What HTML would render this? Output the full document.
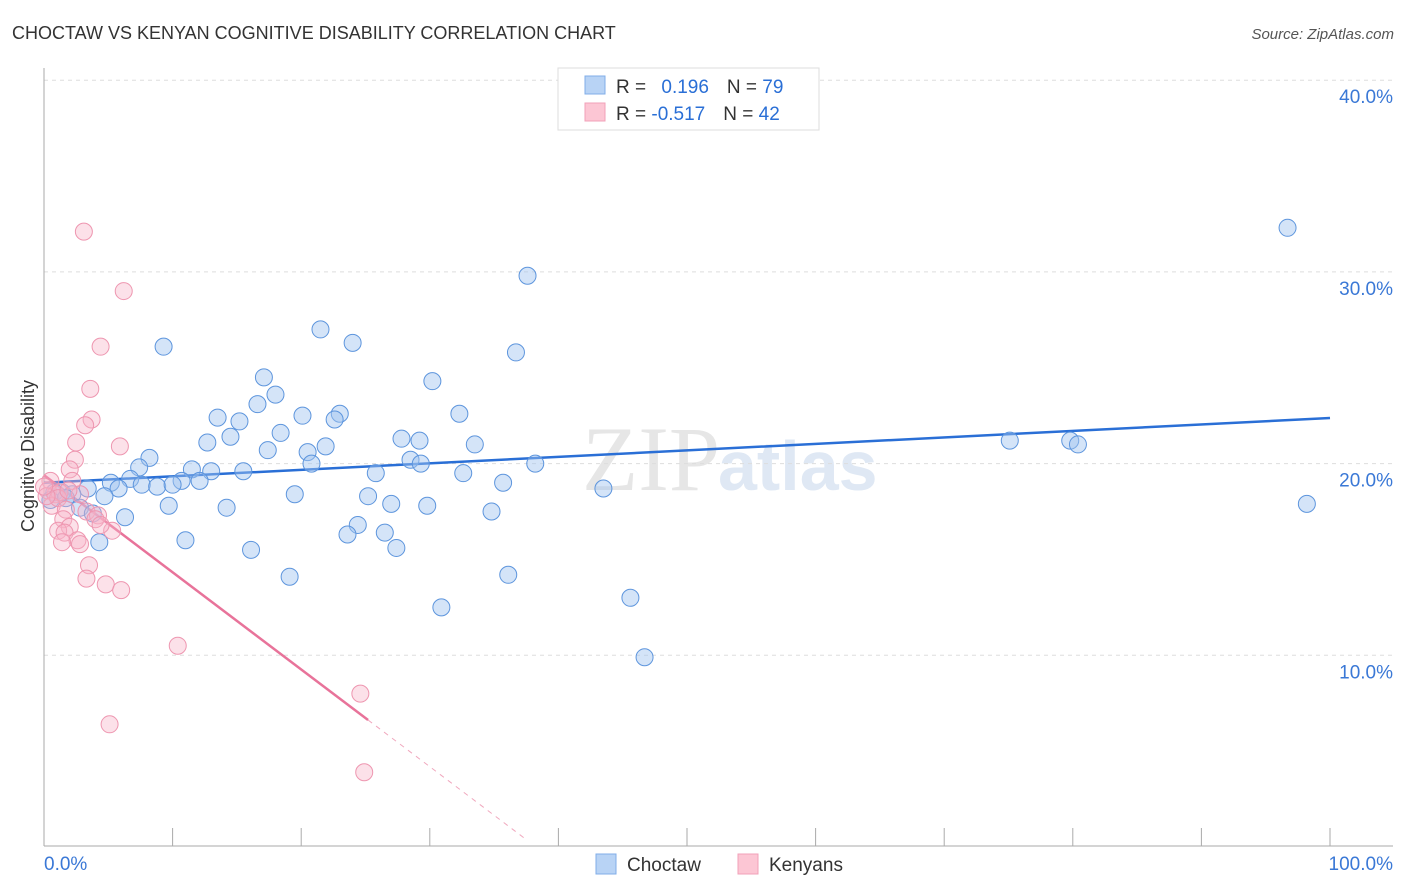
<!DOCTYPE html>
<html><head><meta charset="utf-8"><style>
body{margin:0;background:#fff;font-family:"Liberation Sans",sans-serif}
svg{display:block}
</style></head><body>
<svg id="chart" width="1406" height="892">
<text x="12" y="39" font-size="18" fill="#333">CHOCTAW VS KENYAN COGNITIVE DISABILITY CORRELATION CHART</text>
<text x="1394" y="39" font-size="15" fill="#555" text-anchor="end" font-style="italic">Source: ZipAtlas.com</text>
<text x="720" y="490" font-size="92" fill="#e6e6e6" text-anchor="end" font-family="Liberation Serif">ZIP</text>
<text x="718" y="490" font-size="70" fill="#dfe8f4" font-weight="bold">atlas</text>
<g id="grid"></g><g id="axes"></g><g id="trend"></g><g id="pts"></g>
<text transform="translate(34,456) rotate(-90)" font-size="18" fill="#333" text-anchor="middle">Cognitive Disability</text>
<g>
<rect x="558" y="68" width="261" height="62" fill="#fff" stroke="#ddd"/>
<rect x="585" y="76" width="20" height="18" fill="#b8d3f5" stroke="#80aee8"/>
<rect x="585" y="103" width="20" height="18" fill="#fcc6d4" stroke="#f2a0b8"/>
<text x="616" y="93" font-size="19" fill="#333">R = <tspan fill="#2a6fd6" dx="10">0.196</tspan><tspan dx="18" fill="#333">N = </tspan><tspan fill="#2a6fd6">79</tspan></text>
<text x="616" y="120" font-size="19" fill="#333">R = <tspan fill="#2a6fd6">-0.517</tspan><tspan dx="18" fill="#333">N = </tspan><tspan fill="#2a6fd6">42</tspan></text>
</g>
<g>
<rect x="596" y="854" width="20" height="20" fill="#b8d3f5" stroke="#80aee8"/>
<text x="627" y="871" font-size="19" fill="#333">Choctaw</text>
<rect x="738" y="854" width="20" height="20" fill="#fcc6d4" stroke="#f2a0b8"/>
<text x="769" y="871" font-size="19" fill="#333">Kenyans</text>
</g>
</svg>
<script>
const yTicks=[10,20,30,40];
const yTickLabels=["10.0%","20.0%","30.0%","40.0%"];
const xEnds=[0,100];
const xEndLabels=["0.0%","100.0%"];
const choctawX=[96.7,37.6,21.5,24.0,9.3,36.7,17.1,30.2,18.0,16.6,13.5,20.1,23.0,22.6,32.3,15.2,14.5,18.4,12.7,27.8,29.2,33.5,21.9,20.5,8.2,17.4,28.5,29.3,38.2,20.8,7.4,11.5,13.0,15.5,25.8,32.6,10.7,12.1,5.2,6.7,7.6,8.8,10.0,5.8,3.4,1.4,2.2,4.7,19.5,25.2,35.7,43.5,75.1,79.8,80.4,98.2,9.7,14.2,27.0,29.8,34.8,2.8,3.8,6.3,24.4,23.6,26.5,11.0,4.3,16.1,27.4,19.1,36.1,30.9,45.6,46.7,0.8,0.5,1.7];
const choctawY=[32.3,29.8,27.0,26.3,26.1,25.8,24.5,24.3,23.6,23.1,22.4,22.5,22.6,22.3,22.6,22.2,21.4,21.6,21.1,21.3,21.2,21.0,20.9,20.6,20.3,20.7,20.2,20.0,20.0,20.0,19.8,19.7,19.6,19.6,19.5,19.5,19.1,19.1,19.0,19.2,18.9,18.8,18.9,18.7,18.7,18.5,18.4,18.3,18.4,18.3,19.0,18.7,21.2,21.2,21.0,17.9,17.8,17.7,17.9,17.8,17.5,17.7,17.4,17.2,16.8,16.3,16.4,16.0,15.9,15.5,15.6,14.1,14.2,12.5,13.0,9.9,18.5,18.1,18.2];
const kenyanX=[3.1,6.2,4.4,3.6,3.7,3.2,2.5,5.9,2.4,2.0,2.2,0.5,0.3,0.9,1.2,0.6,1.1,2.8,1.7,3.3,4.2,5.3,4.0,1.5,2.0,1.1,1.6,2.6,1.4,2.8,3.5,3.3,4.8,6.0,10.4,24.6,5.1,24.9,0.2,0.0,1.9,4.4];
const kenyanY=[32.1,29.0,26.1,23.9,22.3,22.0,21.1,20.9,20.2,19.7,19.1,19.1,18.6,18.4,18.5,17.8,18.2,18.4,17.6,17.5,17.3,16.5,17.1,17.1,16.7,16.5,16.4,16.0,15.9,15.8,14.7,14.0,13.7,13.4,10.5,8.0,6.4,3.9,18.3,18.8,18.6,16.8];
const choctawTrend=[19.0,22.38];
const kenyanTrend=[19.4,-0.517*0.0];
const kenyanSolidEnd=25.2, kenyanDashEnd=37.3, kenyanSlope=-0.507;

const NS="http://www.w3.org/2000/svg";
const X=v=>44+v*12.86, Y=v=>847-v*19.17;
function mk(p,tag,a){const e=document.createElementNS(NS,tag);for(const k in a)e.setAttribute(k,a[k]);p.appendChild(e);return e;}
const grid=document.getElementById('grid'),axes=document.getElementById('axes'),trend=document.getElementById('trend'),pts=document.getElementById('pts');
yTicks.forEach((t,i)=>{
 const l=mk(grid,'line',{x1:44,x2:1393,y1:Y(t),y2:Y(t),stroke:'#ddd','stroke-dasharray':'4,4'});
 
 
 const tx=mk(axes,'text',{x:1393,y:Y(t)+23,'font-size':19,fill:'#3a78d6','text-anchor':'end'});
 tx.textContent=yTickLabels[i];
 
 
});
const ax=mk(axes,'line',{x1:44,x2:44,y1:68,y2:846,stroke:'#aaa'});


const bx=mk(axes,'line',{x1:44,x2:1393,y1:846,y2:846,stroke:'#aaa'});


for(let v=10;v<=100;v+=10){
 const t=mk(axes,'line',{x1:X(v),x2:X(v),y1:828,y2:846,stroke:'#aaa'});
 
 
}
xEnds.forEach((v,i)=>{
 const t=mk(axes,'text',{x:i?1393:44,y:870,'font-size':19,fill:'#3a78d6','text-anchor':i?'end':'start'});
 t.textContent=xEndLabels[i];
 
 
});
choctawX.forEach((x,i)=>{
 const c=mk(pts,'circle',{cx:X(x),cy:Y(choctawY[i]),r:8.5,fill:'rgba(160,196,240,0.45)',stroke:'#5d95dd','stroke-width':1});
 
 
});
kenyanX.forEach((x,i)=>{
 const c=mk(pts,'circle',{cx:X(x),cy:Y(kenyanY[i]),r:8.5,fill:'rgba(248,180,200,0.4)',stroke:'#ee96b0','stroke-width':1});
 
 
});
const bt=mk(trend,'line',{x1:X(0),y1:Y(choctawTrend[0]),x2:X(100),y2:Y(choctawTrend[1]),stroke:'#2a6fd6','stroke-width':2.5});


const kt=mk(trend,'line',{x1:X(0),y1:Y(kenyanTrend[0]),x2:X(kenyanSolidEnd),y2:Y(kenyanTrend[0]+kenyanSlope*kenyanSolidEnd),stroke:'#e8739a','stroke-width':2.5});


const kd=mk(trend,'line',{x1:X(kenyanSolidEnd),y1:Y(kenyanTrend[0]+kenyanSlope*kenyanSolidEnd),x2:X(kenyanDashEnd),y2:Y(kenyanTrend[0]+kenyanSlope*kenyanDashEnd),stroke:'#f0a8be','stroke-width':1,'stroke-dasharray':'5,5'});


</script>
</body></html>
